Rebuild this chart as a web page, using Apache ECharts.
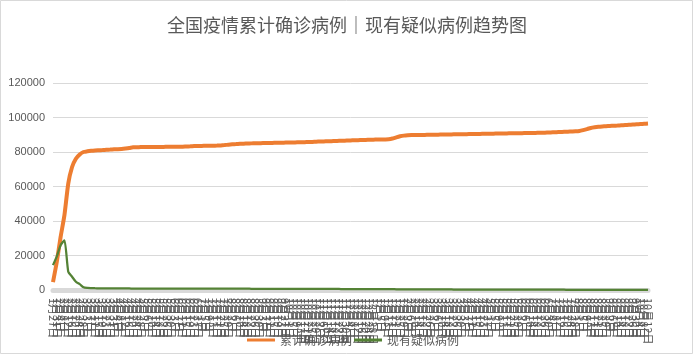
<!DOCTYPE html>
<html><head><meta charset="utf-8">
<script src="https://cdn.jsdelivr.net/npm/echarts@6/dist/echarts.min.js"></script>
<style>html,body{margin:0;padding:0;background:#fff}#c{width:694px;height:356px}</style>
</head><body><div id="c"></div>
<script>
const titleText = "全国疫情累计确诊病例｜现有疑似病例趋势图";
const seriesNames = ["累计确诊病例", "现有疑似病例"];
const categories = ["1月27日","1月31日","2月4日","2月8日","2月12日","2月16日","2月20日","2月24日","2月28日","3月3日","3月7日","3月11日","3月15日","3月19日","3月23日","3月27日","3月31日","4月4日","4月8日","4月12日","4月16日","4月20日","4月24日","4月28日","5月2日","5月6日","5月10日","5月14日","5月18日","5月22日","5月26日","5月30日","6月3日","6月7日","6月11日","6月15日","6月19日","6月23日","6月27日","7月1日","7月5日","7月9日","7月13日","7月17日","7月21日","7月25日","7月29日","8月2日","8月6日","8月10日","8月14日","8月18日","8月22日","8月26日","8月30日","9月3日","9月7日","9月11日","9月15日","9月19日","9月23日","9月27日","10月1日","10月5日","10月9日","10月13日","10月17日","10月21日","10月25日","10月29日","11月2日","11月6日","11月10日","11月14日","11月18日","11月22日","11月26日","11月30日","12月4日","12月8日","12月12日","12月16日","12月20日","12月24日","12月28日","1月1日","1月5日","1月9日","1月13日","1月17日","1月21日","1月25日","1月29日","2月2日","2月6日","2月10日","2月14日","2月18日","2月22日","2月26日","3月2日","3月6日","3月10日","3月14日","3月18日","3月22日","3月26日","3月30日","4月3日","4月7日","4月11日","4月15日","4月19日","4月23日","4月27日","5月1日","5月5日","5月9日","5月13日","5月17日","5月21日","5月25日","5月29日","6月2日","6月6日","6月10日","6月14日","6月18日","6月22日","6月26日","6月30日","7月4日","7月8日","7月12日","7月16日","7月20日","7月24日","7月28日","8月1日","8月5日","8月9日","8月13日","8月17日","8月21日","8月25日","8月29日","9月2日","9月6日","9月10日","9月14日","9月18日","9月22日","9月26日","9月30日","10月4日","10月8日","10月12日"];
const confirmed = [4600,16400,30800,43400,61700,71300,76100,78600,80000,80400,
80700,80900,81000,81100,81250,81400,81550,81650,81800,82050,
82350,82750,82800,82850,82880,82890,82900,82930,82960,82970,
82990,83000,83020,83040,83060,83200,83300,83420,83480,83550,
83580,83600,83650,83700,83800,84000,84250,84450,84600,84750,
84850,84950,85000,85050,85100,85150,85200,85250,85300,85350,
85400,85450,85500,85550,85600,85650,85700,85780,85860,85980,
86060,86140,86220,86300,86380,86460,86540,86620,86700,86780,
86860,86940,87010,87080,87150,87200,87250,87300,87380,87800,
88500,89100,89500,89700,89800,89850,89880,89910,89940,89970,
90000,90050,90100,90150,90200,90230,90260,90300,90340,90380,
90420,90460,90500,90540,90580,90620,90660,90700,90740,90780,
90820,90860,90900,90930,90960,91000,91050,91100,91150,91200,
91300,91400,91500,91600,91700,91800,91900,92000,92200,92700,
93300,93900,94300,94600,94800,94950,95100,95200,95300,95450,
95600,95750,95900,96050,96200,96350,96500];
const suspected = [14400,19500,26000,28800,10600,7700,4800,3400,1600,1200,
1080,1020,1010,970,960,950,920,915,890,885,
880,860,862,845,848,830,836,822,826,815,
812,805,808,796,790,802,788,781,779,770,
768,771,759,762,774,760,751,749,741,738,
730,733,722,718,716,705,709,698,693,689,
684,676,679,668,661,663,651,648,641,637,
628,622,607,603,588,582,571,558,552,537,
533,518,512,497,493,478,472,455,452,437,
433,418,412,398,393,376,372,358,352,337,
332,318,313,298,296,288,286,279,276,268,
266,258,257,248,246,238,236,229,226,218,
217,208,206,198,197,188,186,178,176,169,
166,158,156,148,147,138,136,128,126,118,
117,109,107,99,101,98,102,97,100,96,
99,95,98,94,97,93,95];
const yMin = 0, yMax = 120000, yInterval = 20000;

const chart = echarts.init(document.getElementById('c'), null, {renderer: 'canvas'});
chart.setOption({
  animation: false,
  backgroundColor: '#ffffff',
  title: {
    text: titleText, left: 'center', top: 11,
    textStyle: {fontFamily: '"Noto Sans CJK SC"', fontSize: 18, fontWeight: 'normal', color: '#595959'}
  },
  graphic: [{
    type: 'rect', silent: true, z: -10,
    shape: {x: 0.5, y: 0.5, width: 692, height: 353},
    style: {fill: 'none', stroke: '#d9d9d9', lineWidth: 1}
  }],
  legend: {
    left: 242, top: 329, icon: 'rect', itemWidth: 28, itemHeight: 3, itemGap: 2,
    data: seriesNames,
    textStyle: {fontFamily: '"Noto Sans CJK SC"', fontSize: 12, color: '#595959'}
  },
  grid: {left: 53, right: 46, top: 83, bottom: 66, containLabel: false},
  xAxis: {
    type: 'category', boundaryGap: false, data: categories, offset: 3,
    axisLine: {lineStyle: {color: '#d9d9d9', width: 5}},
    axisTick: {show: false},
    axisLabel: {interval: 0, rotate: -90, margin: 5, fontSize: 11, color: '#595959', fontFamily: '"Noto Sans CJK SC"'}
  },
  yAxis: {
    type: 'value', min: yMin, max: yMax, interval: yInterval,
    axisLine: {show: false}, axisTick: {show: false},
    axisLabel: {fontSize: 11, color: '#595959', margin: 8, fontFamily: '"Liberation Sans"', formatter: function (v) { return String(v); }},
    splitLine: {lineStyle: {color: '#d9d9d9', width: 1}}
  },
  series: [
    {name: seriesNames[0], type: 'line', data: confirmed, symbol: 'none', smooth: 0.2,
     lineStyle: {color: '#ED7D31', width: 4}, itemStyle: {color: '#ED7D31'}},
    {name: seriesNames[1], type: 'line', data: suspected, symbol: 'none', smooth: 0.2,
     lineStyle: {color: '#548235', width: 2.25}, itemStyle: {color: '#548235'}}
  ]
});
</script>
</body></html>
